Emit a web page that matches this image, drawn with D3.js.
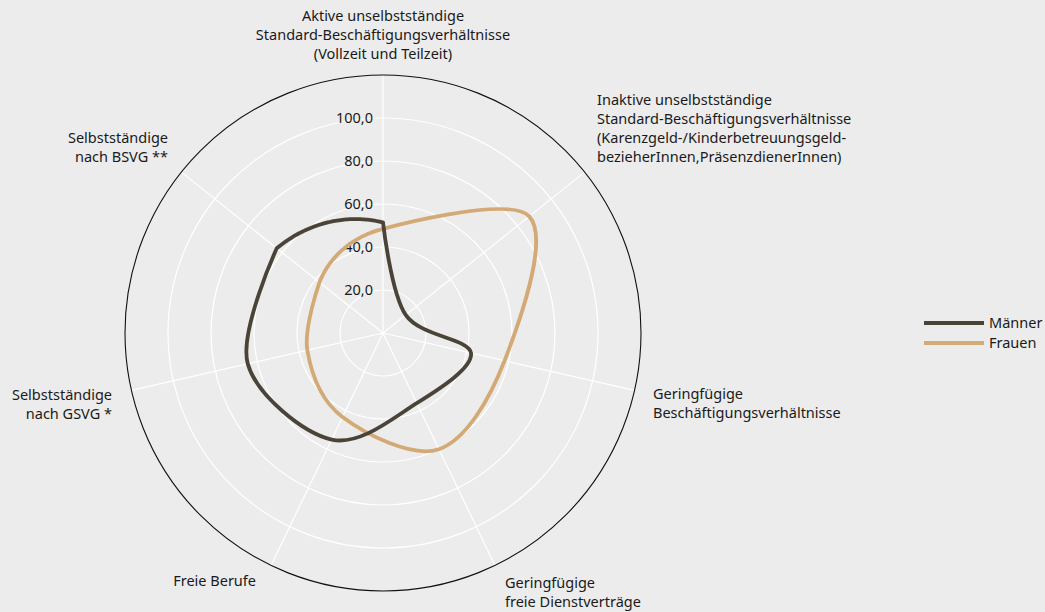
<!DOCTYPE html>
<html><head><meta charset="utf-8">
<script src="https://cdn.jsdelivr.net/npm/d3@7"></script>
<style>html,body{margin:0;padding:0;background:#ececec;overflow:hidden;} svg{display:block;font-family:"Noto Sans",sans-serif;}</style>
</head><body><svg id="c" width="1045" height="612"></svg>
<script>
// ---- data ----
const categories = [
  ["Aktive unselbstständige","Standard-Beschäftigungsverhältnisse","(Vollzeit und Teilzeit)"],
  ["Inaktive unselbstständige","Standard-Beschäftigungsverhältnisse","(Karenzgeld-/Kinderbetreuungsgeld-","bezieherInnen,PräsenzdienerInnen)"],
  ["Geringfügige","Beschäftigungsverhältnisse"],
  ["Geringfügige","freie Dienstverträge"],
  ["Freie Berufe"],
  ["Selbstständige","nach GSVG *"],
  ["Selbstständige","nach BSVG **"]
];
const seriesNames = ["Männer","Frauen"];
const maenner = [51.4, 13.5, 42.0, 36.2, 55.0, 64.5, 63.2];
const frauen  = [48.4, 87.0, 58.0, 60.0, 43.4, 36.1, 37.8];
const tickValues = [20, 40, 60, 80, 100];
const tickLabels = ["20,0", "40,0", "60,0", "80,0", "100,0"];
const maxValue = 120;

// ---- layout ----
const W = 1045, H = 612, cx = 383, cy = 333, R = 258;
const colors = {"Männer": "#4a4337", "Frauen": "#d3aa75"};
const fs = 14.5;
const svg = d3.select("#c");
svg.append("rect").attr("width", W).attr("height", H).attr("fill", "#ececec");

const r = d3.scaleLinear().domain([0, maxValue]).range([0, R]);
const a = d3.scaleLinear().domain([0, categories.length]).range([0, 2 * Math.PI]);
const px = (v, th) => r(v) * Math.sin(th);
const py = (v, th) => -r(v) * Math.cos(th);

const g = svg.append("g").attr("transform", `translate(${cx},${cy})`);

g.selectAll("circle.grid").data(tickValues).join("circle")
  .attr("class", "grid").attr("r", d => r(d))
  .attr("fill", "none").attr("stroke", "#ffffff").attr("stroke-width", 1.2);

g.selectAll("line.spoke").data(categories).join("line")
  .attr("class", "spoke")
  .attr("x1", 0).attr("y1", 0)
  .attr("x2", (d, i) => px(maxValue, a(i)))
  .attr("y2", (d, i) => py(maxValue, a(i)))
  .attr("stroke", "#ffffff").attr("stroke-width", 1.2);

g.append("circle").attr("r", r(maxValue)).attr("fill", "none")
  .attr("stroke", "#111").attr("stroke-width", 1.1);

// tick labels
g.selectAll("text.tick").data(tickValues).join("text")
  .attr("class", "tick")
  .attr("x", -10).attr("y", d => -r(d))
  .attr("dy", "0.35em")
  .attr("text-anchor", "end")
  .attr("font-size", fs).attr("fill", "#1a1a1a")
  .text((d, i) => tickLabels[i]);

// series
function seriesPath(vals) {
  const n = vals.length;
  const pts = vals.map((v, i) => [px(v, a(i)), py(v, a(i))]);
  const ctx = d3.path();
  d3.line().curve(d3.curveCardinal.tension(0)).context(ctx)(pts);
  // closing segment: straight in polar space (as in a polar coordinate system)
  const rs = d3.interpolateNumber(vals[n - 1], vals[0]);
  const as = d3.interpolateNumber(a(n - 1), a(n));
  const steps = 60;
  for (let k = 1; k <= steps; k++) {
    const t = k / steps;
    ctx.lineTo(px(rs(t), as(t)), py(rs(t), as(t)));
  }
  return ctx.toString();
}
const series = [
  {name: "Frauen", values: frauen},
  {name: "Männer", values: maenner}
];
g.selectAll("path.series").data(series).join("path")
  .attr("class", "series")
  .attr("d", d => seriesPath(d.values))
  .attr("fill", "none")
  .attr("stroke", d => colors[d.name])
  .attr("stroke-width", 3.8)
  .attr("stroke-linejoin", "round")
  .attr("stroke-linecap", "round");

// axis labels (text layout: anchor x, first-line centre y, alignment)
const labelLayout = [
  {x: 383, y: 16, anchor: "middle"},
  {x: 597, y: 100, anchor: "start"},
  {x: 653, y: 394, anchor: "start"},
  {x: 505, y: 583, anchor: "start"},
  {x: 256, y: 581, anchor: "end"},
  {x: 112, y: 395, anchor: "end"},
  {x: 168, y: 138, anchor: "end"}
];
const lh = 19;
const lab = svg.selectAll("text.axislabel").data(categories).join("text")
  .attr("class", "axislabel")
  .attr("font-size", fs).attr("fill", "#1a1a1a")
  .attr("text-anchor", (d, i) => labelLayout[i].anchor);
lab.selectAll("tspan").data((d, i) => d.map((line, j) => ({line, j, i}))).join("tspan")
  .attr("x", d => labelLayout[d.i].x)
  .attr("y", d => labelLayout[d.i].y + d.j * lh)
  .attr("dy", "0.35em")
  .text(d => d.line);

// legend
const leg = svg.append("g").attr("transform", "translate(924,323)");
seriesNames.forEach((name, i) => {
  leg.append("line").attr("x1", 0).attr("x2", 60).attr("y1", i * 20).attr("y2", i * 20)
    .attr("stroke", colors[name]).attr("stroke-width", 4);
  leg.append("text").attr("x", 65).attr("y", i * 20).attr("dy", "0.35em")
    .attr("font-size", fs).attr("fill", "#1a1a1a").text(name);
});
</script>
</body></html>
